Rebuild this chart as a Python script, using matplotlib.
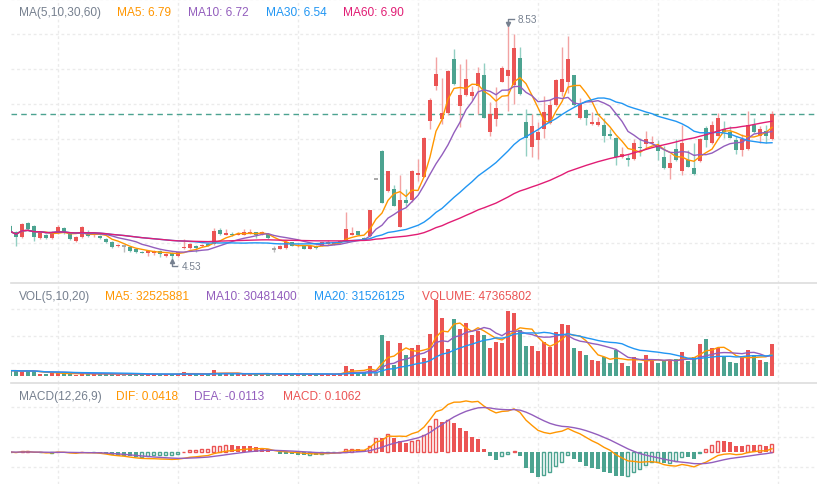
import matplotlib
matplotlib.use("Agg")
import matplotlib.pyplot as plt
import numpy as np
import pandas as pd
from matplotlib.lines import Line2D
from matplotlib.transforms import IdentityTransform

# daily candles (oldest first)
open_ = [5.10, 5.00, 4.91, 5.15, 5.10, 4.89, 4.95, 4.89, 4.98, 5.07,
         4.98, 4.84, 4.91, 5.00, 4.95, 4.93, 4.88, 4.82, 4.76, 4.76,
         4.74, 4.70, 4.66, 4.64, 4.64, 4.67, 4.58, 4.64, 4.58, 4.72,
         4.72, 4.76, 4.76, 4.79, 4.79, 5.03, 4.95, 4.97, 4.95, 4.95,
         4.97, 4.99, 4.97, 4.96, 4.70, 4.71, 4.73, 4.82, 4.75, 4.77,
         4.71, 4.76, 4.76, 4.79, 4.79, 4.80, 4.86, 4.95, 5.01, 4.90,
         4.92, 5.91, 6.39, 5.70, 5.74, 5.09, 5.55, 5.55, 5.97, 5.95,
         6.91, 7.50, 6.94, 7.04, 7.97, 7.17, 7.35, 7.34, 7.51, 7.69,
         6.71, 6.93, 7.58, 7.67, 7.52, 7.98, 6.88, 6.45, 6.57, 6.77,
         6.87, 7.18, 7.41, 7.57, 7.69, 6.95, 7.10, 6.85, 6.83, 6.83,
         6.68, 6.61, 6.28, 6.26, 6.25, 6.46, 6.51, 6.53, 6.48, 6.28,
         6.10, 6.43, 6.04, 6.23, 6.10, 6.21, 6.79, 6.53, 6.65, 6.77,
         6.72, 6.57, 6.41, 6.42, 6.83, 6.65, 6.74, 6.59]
high = [5.13, 5.01, 5.15, 5.17, 5.12, 5.01, 4.96, 5.01, 5.12, 5.08,
        5.00, 4.93, 5.10, 5.03, 5.00, 4.95, 4.89, 4.84, 4.79, 4.76,
        4.76, 4.72, 4.67, 4.69, 4.69, 4.69, 4.64, 4.65, 4.67, 4.88,
        4.81, 4.77, 4.79, 4.81, 5.07, 5.07, 5.05, 5.00, 4.99, 5.05,
        5.05, 5.00, 5.01, 4.98, 4.76, 4.78, 4.83, 4.83, 4.80, 4.78,
        4.76, 4.77, 4.83, 4.86, 4.83, 4.86, 5.34, 5.08, 5.02, 4.91,
        5.38, 5.91, 6.41, 6.04, 5.80, 5.98, 5.74, 6.06, 6.25, 6.63,
        7.30, 8.00, 7.64, 7.78, 8.14, 7.88, 7.97, 7.51, 7.83, 7.90,
        7.23, 7.48, 7.85, 8.53, 8.40, 8.18, 7.11, 7.02, 6.88, 7.34,
        7.28, 7.62, 8.17, 8.36, 7.70, 7.30, 7.11, 7.05, 6.97, 6.96,
        6.77, 6.63, 6.45, 6.34, 6.59, 6.62, 6.74, 6.65, 6.57, 6.48,
        6.34, 6.59, 6.83, 6.40, 6.53, 6.61, 6.81, 6.90, 7.04, 6.90,
        6.81, 6.65, 6.68, 7.08, 6.96, 6.81, 6.83, 7.08]
low = [4.98, 4.76, 4.89, 5.03, 4.84, 4.88, 4.88, 4.88, 4.96, 4.96,
       4.86, 4.82, 4.89, 4.91, 4.91, 4.88, 4.81, 4.72, 4.74, 4.65,
       4.65, 4.64, 4.64, 4.58, 4.60, 4.57, 4.57, 4.53, 4.57, 4.70,
       4.70, 4.65, 4.74, 4.76, 4.77, 4.95, 4.94, 4.93, 4.94, 4.94,
       4.96, 4.90, 4.94, 4.88, 4.66, 4.70, 4.71, 4.75, 4.74, 4.70,
       4.70, 4.70, 4.75, 4.78, 4.78, 4.79, 4.85, 4.94, 4.94, 4.87,
       4.91, 5.91, 5.49, 5.68, 5.44, 5.09, 5.44, 5.51, 5.87, 5.94,
       6.77, 7.44, 6.85, 7.01, 7.52, 6.80, 7.33, 7.26, 7.02, 6.95,
       6.65, 6.81, 7.57, 7.07, 7.20, 7.35, 6.31, 6.28, 6.25, 6.62,
       6.85, 7.16, 7.34, 7.39, 7.17, 6.94, 6.83, 6.83, 6.82, 6.55,
       6.59, 6.14, 6.27, 6.13, 6.23, 6.31, 6.42, 6.51, 6.23, 6.08,
       5.90, 6.22, 5.98, 6.11, 5.98, 6.20, 6.45, 6.51, 6.64, 6.62,
       6.61, 6.34, 6.31, 6.41, 6.70, 6.53, 6.53, 6.58]
close = [5.01, 4.91, 5.13, 5.05, 4.91, 5.00, 4.89, 5.00, 5.08, 4.98,
         4.88, 4.91, 5.08, 4.93, 4.98, 4.89, 4.82, 4.74, 4.77, 4.76,
         4.67, 4.65, 4.64, 4.67, 4.67, 4.62, 4.62, 4.58, 4.65, 4.74,
         4.79, 4.72, 4.77, 4.76, 5.01, 4.96, 4.98, 4.94, 4.97, 4.99,
         4.99, 4.95, 5.00, 4.89, 4.70, 4.75, 4.82, 4.76, 4.78, 4.71,
         4.75, 4.72, 4.82, 4.82, 4.82, 4.85, 5.05, 4.98, 4.95, 4.88,
         5.37, 5.91, 5.50, 6.04, 5.45, 5.55, 5.50, 6.04, 6.01, 6.61,
         7.27, 7.71, 7.04, 7.76, 7.54, 7.35, 7.63, 7.40, 7.73, 6.96,
         7.02, 7.12, 7.82, 7.78, 8.15, 7.37, 6.61, 6.81, 6.72, 7.05,
         7.18, 7.60, 7.63, 7.97, 7.18, 7.20, 6.96, 6.88, 6.88, 6.64,
         6.65, 6.28, 6.34, 6.24, 6.53, 6.44, 6.60, 6.55, 6.38, 6.10,
         6.19, 6.23, 6.53, 6.12, 5.99, 6.59, 6.57, 6.83, 6.95, 6.71,
         6.62, 6.40, 6.59, 6.83, 6.71, 6.77, 6.64, 7.02]
# volume, millions of shares
volume_m = [8, 8, 6.5, 8, 7, 3.5, 3, 5, 4.5, 3.5,
            3, 2, 4, 4, 3, 2.5, 3, 3.5, 2, 2,
            3.5, 3, 2, 2.5, 2.5, 3, 2, 3, 3.5, 6.5,
            3, 2.5, 2, 2.5, 9.4, 4.5, 3, 3, 2.5, 3,
            2.5, 3, 2.5, 3.5, 2.5, 2.5, 3.5, 3, 2.5, 3,
            2, 2.5, 3, 3, 3, 4, 15, 11, 6, 6,
            15, 4, 60.7, 53, 16, 49, 31, 41.5, 46, 26.7,
            62, 114, 87, 40, 84.4, 69.6, 78.5, 60.7, 67, 60.7,
            41.5, 51, 49, 97, 94, 68.6, 45, 45, 37.5, 51,
            43.5, 65.7, 77, 75.5, 42.5, 37.5, 31, 24, 22.7, 28.6,
            19, 39, 19, 15.3, 29, 19, 31, 22.7, 19, 22.7,
            23.7, 26, 36, 22.7, 27.7, 47.4, 54.8, 41.5, 41.5, 29,
            21, 19, 29, 38.5, 31, 24, 21, 47.365802]

UP, DOWN, FLAT = "#EB5454", "#4CA390", "#999999"
UP_W, DOWN_W, FLAT_W = "#F2A3A3", "#93CFC2", "#BBBBBB"
ORANGE, PURPLE, BLUE, PINK = "#FF9600", "#935EBD", "#2196F3", "#E11D74"
TITLE = "#76808F"
GRID = "#EBEBEB"
FONT = "Liberation Sans"

W, H = 817, 485
fig = plt.figure(figsize=(W / 100, H / 100), dpi=100)
fig.patch.set_facecolor("white")


def pane(top, bottom):
    ax = fig.add_axes([11 / W, 1 - bottom / H, (W - 11) / W, (bottom - top) / H])
    ax.axis("off")
    ax.set_xlim(1 / 6, 134.5)
    for v in range(8, 135, 20):
        ax.axvline(v, color=GRID, lw=1, ls=(0, (2, 2)), zorder=0)
    return ax


ax_k = pane(0, 284)
ax_v = pane(284, 384)
ax_m = pane(384, 485)

o, h, l, c = map(np.array, (open_, high, low, close))
vol = np.array(volume_m)
n = len(c)
x = np.arange(n)
up = c > o
down = c < o
col = np.where(up, UP, np.where(down, DOWN, FLAT))
wcol = np.where(up, UP_W, np.where(down, DOWN_W, FLAT_W))

# ---- price pane
ax_k.set_ylim(4.1203, 9.0)
for g in [9.0, 8.4, 7.8, 7.2, 6.6, 6.0, 5.4, 4.8]:
    ax_k.axhline(g, color=GRID, lw=1, ls=(0, (2, 2)), zorder=0)
ax_k.vlines(x, l, h, colors=wcol, lw=1, zorder=2)
body = np.abs(c - o)
flat = body < 0.005
body_h = np.maximum(body, 0.018)
ax_k.bar(x[~flat], body_h[~flat], bottom=np.minimum(o, c)[~flat], width=0.68,
         color=col[~flat], lw=0, zorder=3)
ax_k.hlines(o[flat], x[flat] - 0.34, x[flat] + 0.34, colors=FLAT, lw=1.2, zorder=3)

cs = pd.Series(c)
for win, color in [(5, ORANGE), (10, PURPLE), (30, BLUE), (60, PINK)]:
    ax_k.plot(x, cs.rolling(win, min_periods=1).mean(), color=color, lw=1.0, zorder=4)
ax_k.axhline(c[-1], color=DOWN, lw=1, ls=(0, (4, 3)), zorder=1)

# ---- volume pane
ax_v.set_ylim(-10.4, 138.8)
for g in [20, 60, 100]:
    ax_v.axhline(g, color=GRID, lw=1, ls=(0, (2, 2)), zorder=0)
ax_v.bar(x, vol, width=0.68, color=col, lw=0, zorder=2)
vs = pd.Series(vol)
for win, color in [(5, ORANGE), (10, PURPLE), (20, BLUE)]:
    ax_v.plot(x, vs.rolling(win, min_periods=1).mean(), color=color, lw=1.0, zorder=3)

# ---- MACD pane
ema12 = cs.ewm(span=12, adjust=False).mean()
ema26 = cs.ewm(span=26, adjust=False).mean()
dif = (ema12 - ema26).values
dea = pd.Series(dif).ewm(span=9, adjust=False).mean().values
macd = 2 * (dif - dea)
ax_m.set_ylim(-0.4267, 0.92)
for g in [-0.2, 0.2, 0.6]:
    ax_m.axhline(g, color=GRID, lw=1, ls=(0, (2, 2)), zorder=0)
prev = np.concatenate([[-np.inf], macd[:-1]])
mcol = np.where(macd > 0, UP, np.where(macd < 0, DOWN, FLAT))
hollow = prev < macd
ax_m.bar(x[~hollow], macd[~hollow], width=0.68, color=mcol[~hollow], lw=0, zorder=2)
ax_m.bar(x[hollow], macd[hollow], width=0.5, fill=False, edgecolor=mcol[hollow], lw=1, zorder=2)
ax_m.plot(x, dif, color=ORANGE, lw=1.0, zorder=3)
ax_m.plot(x, dea, color=PURPLE, lw=1.0, zorder=3)

# pane separators
for yy in (284, 384):
    fig.add_artist(Line2D([11 / W, 1], [1 - yy / H] * 2, color="#DDDDDD", lw=1.2))


def label(px, py, s, color):
    fig.text(px / W, 1 - py / H, s, color=color, fontsize=8.6, family=FONT,
             ha="left", va="center")


label(19, 13, "MA(5,10,30,60)", TITLE)
label(117, 13, "MA5: 6.79", ORANGE)
label(188, 13, "MA10: 6.72", PURPLE)
label(266, 13, "MA30: 6.54", BLUE)
label(343, 13, "MA60: 6.90", PINK)

label(19, 297, "VOL(5,10,20)", TITLE)
label(105, 297, "MA5: 32525881", ORANGE)
label(206, 297, "MA10: 30481400", PURPLE)
label(314, 297, "MA20: 31526125", BLUE)
label(422, 297, "VOLUME: 47365802", UP)

label(19, 397, "MACD(12,26,9)", TITLE)
label(116, 397, "DIF: 0.0418", ORANGE)
label(194, 397, "DEA: -0.0113", PURPLE)
label(283, 397, "MACD: 0.1062", UP)

# high / low marks
fig.canvas.draw()
ident = IdentityTransform()


def extreme_mark(idx, val, sign):
    px, py = ax_k.transData.transform((idx, val))
    tip = py + sign * 2
    end = py + sign * 7
    fig.add_artist(Line2D([px, px, px + 5.5], [tip, end, end], transform=ident,
                          color=TITLE, lw=1))
    fig.add_artist(Line2D([px], [tip], transform=ident, marker="v" if sign > 0 else "^",
                          markersize=3, color=TITLE, lw=0))
    fig.text(px + 9.5, end, f"{val:.2f}", transform=ident, color=TITLE,
             fontsize=7.2, family=FONT, ha="left", va="center")


hi = int(np.argmax(h))
lo = int(np.argmin(l))
extreme_mark(hi, h[hi], 1)
extreme_mark(lo, l[lo], -1)

fig.savefig("out.png", dpi=100)
